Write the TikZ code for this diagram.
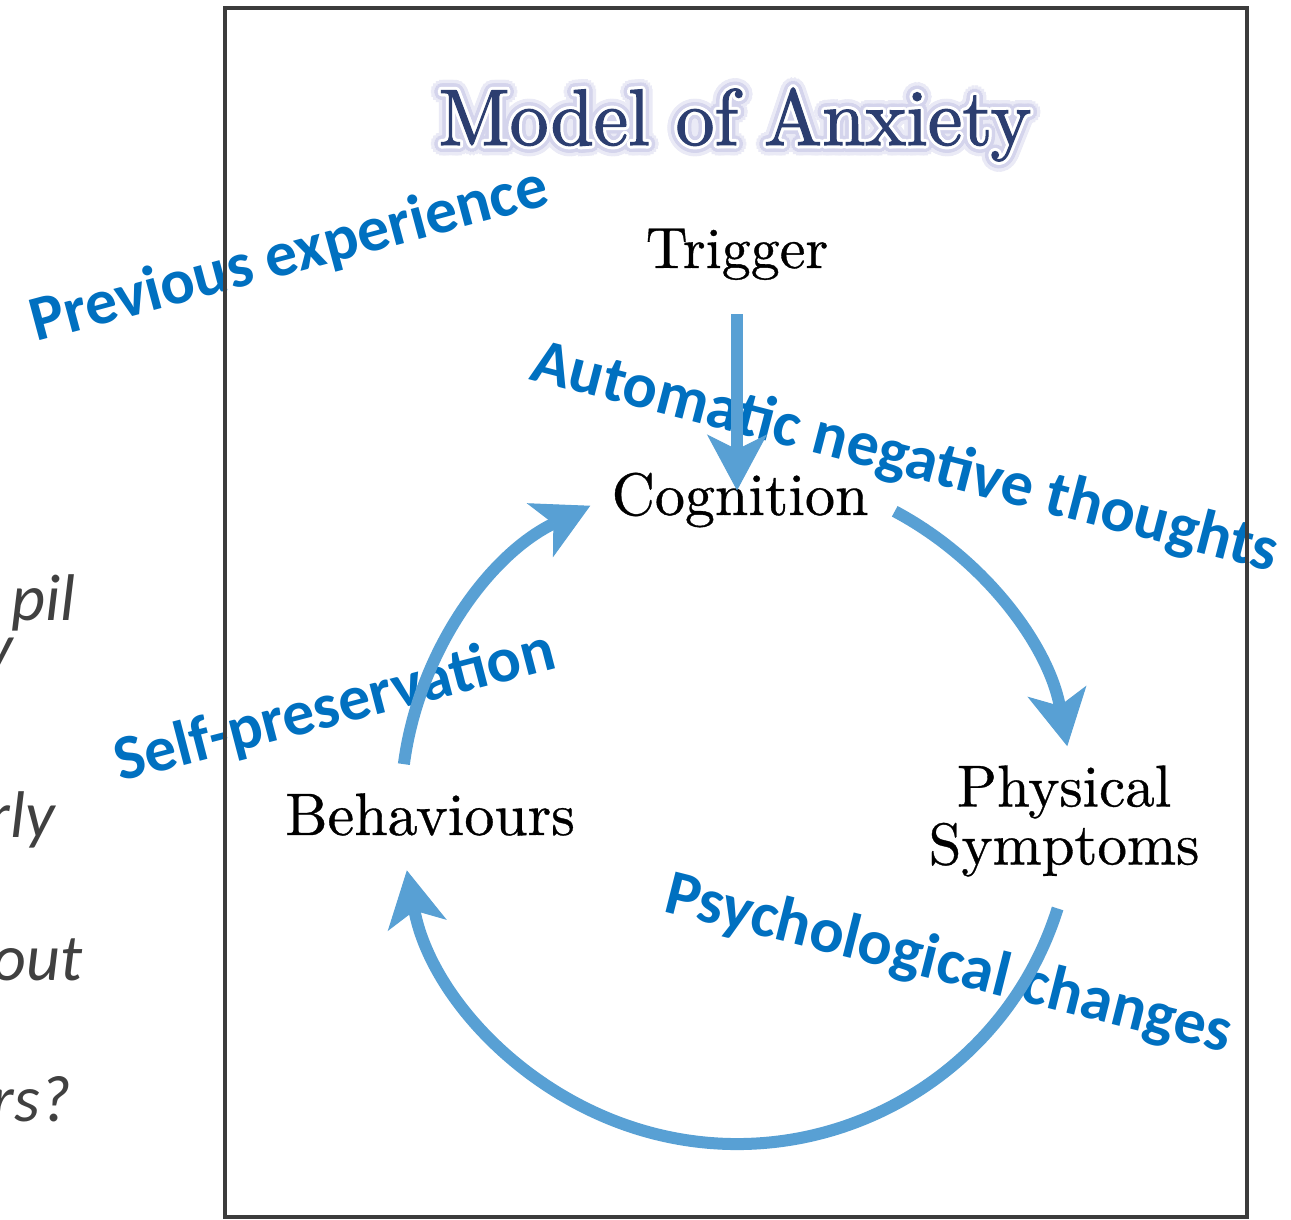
\documentclass[tikz,border=0pt]{standalone}
\usepackage{fontspec}
\newfontfamily\calibri{Carlito}
\newfontfamily\stagefont{lmroman10-regular}[Extension=.otf, FakeBold=0.6]
\newfontfamily\titlefont{lmroman10-regular}[Extension=.otf, FakeStretch=0.97, FakeBold=1.4]
\usetikzlibrary{arrows.meta,calc}

\definecolor{labelblue}{RGB}{0,112,192}
\definecolor{cyclearrow}{RGB}{88,160,212}
\definecolor{titlenavy}{RGB}{44,62,112}
\definecolor{titleglow}{RGB}{212,212,236}
\definecolor{titlehaze}{RGB}{234,234,246}
\definecolor{notegray}{RGB}{64,64,64}
\definecolor{framegray}{RGB}{60,60,60}

\tikzset{
  flow/.style={draw=cyclearrow, line width=12pt,
    -{Stealth[length=56pt,width=60pt,inset=15pt,line width=1pt]}},
  stage/.style={inner sep=0pt, text=black, font=\stagefont\fontsize{60}{60}\selectfont},
  remark/.style={inner sep=0pt, anchor=base west, text=labelblue,
    font=\calibri\bfseries\fontsize{64}{64}\selectfont},
  note/.style={inner sep=0pt, anchor=base east, text=notegray,
    font=\calibri\itshape\fontsize{66}{66}\selectfont},
  heading/.style={inner sep=0pt, anchor=base, font=\titlefont\fontsize{80}{80}\selectfont},
}

\begin{document}
\begin{tikzpicture}[x=1pt,y=1pt]
\useasboundingbox (0,0) rectangle (1291,1219);
\fill[white] (0,0) rectangle (1291,1219);

% slide text running off the left edge
\node[note] (n1) at (76,598) {pil};
\node[note] (n2) at (13,549) {y};
\node[note] (n3) at (55,381) {rly};
\node[note] (n4) at (83,238) {out};
\node[note] (n5) at (71,98) {rs?};

% annotations laid under the model picture
\node[remark, rotate=15]    (prev)  at (36,877)  {Previous experience};
\node[remark, rotate=-14.5] (auto)  at (528,840) {Automatic negative thoughts};
\node[remark, rotate=14.6]  (selfp) at (120,437) {Self-preservation};
\node[remark, rotate=-14.1] (psych) at (662,308) {Psychological changes};

% picture frame
\draw[framegray, line width=3.5pt] (225,2) rectangle (1247,1211);

% title with a soft glow
\foreach \a in {0,20,...,340} {
  \path (735,1074) ++(\a:10) node[heading, text=titlehaze] (hazeA\a) {Model of Anxiety};
}
\foreach \a in {0,20,...,340} {
  \path (735,1074) ++(\a:6.5) node[heading, text=titleglow] (glowA\a) {Model of Anxiety};
}
\foreach \a in {0,30,...,330} {
  \path (735,1074) ++(\a:3) node[heading, text=white] (glowB\a) {Model of Anxiety};
}
\node[heading, text=titlenavy] (title) at (735,1074) {Model of Anxiety};

% stages of the cycle
\node[stage, anchor=base, font=\stagefont\fontsize{58}{58}\selectfont] (trig) at (737,951) {Trigger};
\node[stage, anchor=base] (cog) at (740,704) {Cognition};
\node[stage, anchor=base] (beh) at (430,384) {Behaviours};
\node[stage, align=center, font=\stagefont\fontsize{59}{58}\selectfont] (phys) at (1064,398) {Physical\\Symptoms};

% connectors
\coordinate (hub) at (737,411);
\draw[flow, shorten <=34pt, shorten >=-18pt] (trig.south) -- (trig.south |- cog.north);
\draw[flow] ($(hub)+(62:336)$) arc[start angle=62, end angle=10.6, radius=336];
\draw[flow] ($(hub)+(-17.4:336)$) arc[start angle=-17.4, end angle=-169.3, radius=336];
\draw[flow] ($(hub)+(172.5:336)$) arc[start angle=172.5, end angle=115.9, radius=336];
\end{tikzpicture}
\end{document}
